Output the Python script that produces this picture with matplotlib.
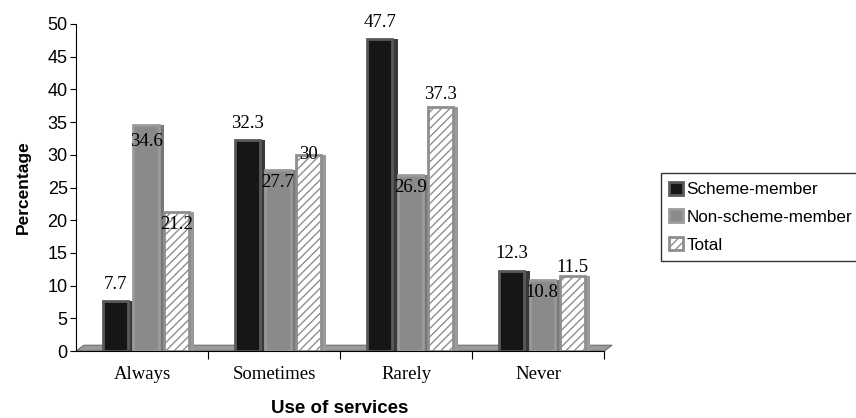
import matplotlib.pyplot as plt
import numpy as np

plt.rcParams['font.family'] = ['Liberation Sans', 'DejaVu Sans']

categories = ["Always", "Sometimes", "Rarely", "Never"]
series_names = ["Scheme-member", "Non-scheme-member", "Total"]
scheme = [7.7, 32.3, 47.7, 12.3]
non_scheme = [34.6, 27.7, 26.9, 10.8]
total = [21.2, 30.0, 37.3, 11.5]

# label offsets (points) so the numbers sit roughly where the original put them
label_dy = [[12, 12, 12, 12],
            [-12, -9, -9, -9],
            [-9, 0, 9, 6]]

faces = ["#161616", "#8a8a8a", "white"]
edges = ["#5a5a5a", "#9a9a9a", "#8e8e8e"]
sides = ["#3a3a3a", "#777777", "#9a9a9a"]
hatches = [None, None, "////"]

fig = plt.figure(figsize=(8.56, 4.18), dpi=100)
ax = fig.add_axes([0.0888, 0.160, 0.617, 0.7826])

x = np.arange(len(categories))
w = 0.19
d = 0.04
offsets = [-0.23 + 0.03, 0.03, 0.23 + 0.03]

# the grey "floor" of the old 3D style chart
ax.fill([-0.5, 3.5, 3.56, -0.44], [0, 0, 0.9, 0.9], facecolor="#9a9a9a",
        edgecolor="#6e6e6e", lw=0.8, zorder=1, clip_on=False)

for i, vals in enumerate([scheme, non_scheme, total]):
    pos = x + offsets[i]
    ax.bar(pos, vals, width=w, color=faces[i], edgecolor=edges[i], linewidth=2,
           hatch=hatches[i], zorder=3, label=series_names[i])
    ax.bar(pos + w / 2 + d / 2, vals, width=d, color=sides[i], linewidth=0, zorder=2)
    for xp, v, dy in zip(pos, vals, label_dy[i]):
        txt = f"{v:g}"
        ax.annotate(txt, (xp, v), xytext=(0, dy), textcoords="offset points",
                    ha="center", va="center", fontsize=13.5,
                    family="Liberation Serif", zorder=5)

ax.set_xlim(-0.5, 3.5)
ax.set_ylim(0, 50)
ax.set_yticks(np.arange(0, 51, 5))
ax.tick_params(axis="y", labelsize=13, length=4, width=0.8, pad=2)
ax.set_xticks([0.5, 1.5, 2.5, 3.5])
ax.set_xticklabels([])
ax.set_xticks(x, minor=True)
ax.set_xticklabels(categories, minor=True, family="Liberation Serif", fontsize=13.5)
ax.tick_params(axis="x", which="minor", length=0, pad=11)
ax.tick_params(axis="x", which="major", length=6, width=0.8)

for s in ["top", "right"]:
    ax.spines[s].set_visible(False)
ax.spines["left"].set_linewidth(0.8)
ax.spines["bottom"].set_linewidth(0.8)

ax.set_ylabel("Percentage", fontsize=12.5, fontweight="bold", labelpad=12)
ax.set_xlabel("Use of services", fontsize=13.5, fontweight="bold", labelpad=12)

ax.legend(loc="upper left", bbox_to_anchor=(0.772, 0.586),
          bbox_transform=fig.transFigure, fontsize=12.3, frameon=True,
          fancybox=False, edgecolor="black", borderaxespad=0,
          handlelength=0.8, handleheight=0.8, handletextpad=0.2,
          labelspacing=0.72, borderpad=0.5)

plt.savefig("out.png", dpi=100)
